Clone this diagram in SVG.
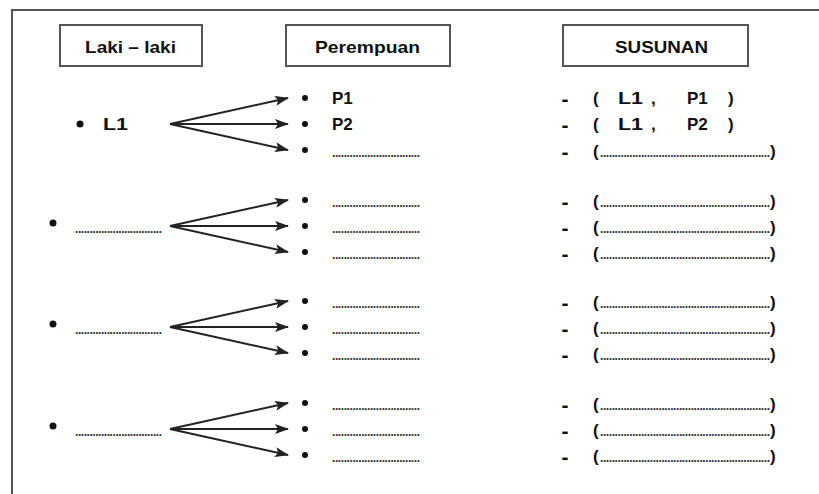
<svg xmlns="http://www.w3.org/2000/svg" width="819" height="494" viewBox="0 0 819 494">
<style>
.frame{fill:none;stroke:#555;stroke-width:2}
.box{fill:#fff;stroke:#555;stroke-width:2}
.hd{font-family:"Liberation Sans",Arial,sans-serif;font-weight:bold;font-size:17px;fill:#111}
.t{font-family:"Liberation Sans",Arial,sans-serif;font-weight:bold;font-size:17px;fill:#111}
.ds{font-family:"Liberation Sans",Arial,sans-serif;font-weight:bold;font-size:21px;fill:#111}
.dots{font-family:"Liberation Sans",Arial,sans-serif;font-weight:bold;font-size:12px;fill:#333}
.bl{fill:#111}
.arr{stroke:#222;stroke-width:2;fill:none;marker-end:url(#ah)}
</style>
<defs>
<marker id="ah" markerUnits="userSpaceOnUse" markerWidth="14" markerHeight="10" viewBox="0 0 14 10" refX="13" refY="5" orient="auto">
<path d="M0,0 L14,5 L0,10 L3,5 z" fill="#222"/>
</marker>
</defs>
<rect width="819" height="494" fill="#fff"/>
<path class="frame" d="M12,494 L12,10 L819,10"/>

<g id="hdr-laki"><rect class="box" x="60" y="25" width="142" height="41"/><text class="hd" x="85" y="53" textLength="91" lengthAdjust="spacingAndGlyphs">Laki – laki</text></g>
<g id="hdr-perempuan"><rect class="box" x="286" y="25" width="164" height="41"/><text class="hd" x="315" y="53" textLength="105" lengthAdjust="spacingAndGlyphs">Perempuan</text></g>
<g id="hdr-susunan"><rect class="box" x="563" y="25" width="185" height="41"/><text class="hd" x="615" y="53" textLength="93" lengthAdjust="spacingAndGlyphs">SUSUNAN</text></g>

<!-- left column -->
<g id="L1"><circle class="bl" cx="80" cy="124" r="3.5"/><text class="t" x="103" y="130" textLength="25" lengthAdjust="spacingAndGlyphs">L1</text></g>
<g id="L2"><circle class="bl" cx="53" cy="223" r="3.5"/><text class="dots" x="75" y="233" textLength="87" lengthAdjust="spacing">..............................</text></g>
<g id="L3"><circle class="bl" cx="53" cy="324" r="3.5"/><text class="dots" x="75" y="334" textLength="87" lengthAdjust="spacing">..............................</text></g>
<g id="L4"><circle class="bl" cx="53" cy="426" r="3.5"/><text class="dots" x="75" y="436" textLength="87" lengthAdjust="spacing">..............................</text></g>

<!-- middle column -->
<g id="P1"><circle class="bl" cx="305" cy="98" r="3"/><text class="t" x="332" y="104">P1</text></g>
<g id="P2"><circle class="bl" cx="305" cy="124" r="3"/><text class="t" x="332" y="130">P2</text></g>
<g id="P3"><circle class="bl" cx="305" cy="150" r="3"/><text class="dots" x="332" y="157" textLength="88" lengthAdjust="spacing">..............................</text></g>
<g id="P4"><circle class="bl" cx="305" cy="200" r="3"/><text class="dots" x="332" y="207" textLength="88" lengthAdjust="spacing">..............................</text></g>
<g id="P5"><circle class="bl" cx="305" cy="226" r="3"/><text class="dots" x="332" y="233" textLength="88" lengthAdjust="spacing">..............................</text></g>
<g id="P6"><circle class="bl" cx="305" cy="252" r="3"/><text class="dots" x="332" y="259" textLength="88" lengthAdjust="spacing">..............................</text></g>
<g id="P7"><circle class="bl" cx="305" cy="301" r="3"/><text class="dots" x="332" y="308" textLength="88" lengthAdjust="spacing">..............................</text></g>
<g id="P8"><circle class="bl" cx="305" cy="327" r="3"/><text class="dots" x="332" y="334" textLength="88" lengthAdjust="spacing">..............................</text></g>
<g id="P9"><circle class="bl" cx="305" cy="353" r="3"/><text class="dots" x="332" y="360" textLength="88" lengthAdjust="spacing">..............................</text></g>
<g id="P10"><circle class="bl" cx="305" cy="403" r="3"/><text class="dots" x="332" y="410" textLength="88" lengthAdjust="spacing">..............................</text></g>
<g id="P11"><circle class="bl" cx="305" cy="429" r="3"/><text class="dots" x="332" y="436" textLength="88" lengthAdjust="spacing">..............................</text></g>
<g id="P12"><circle class="bl" cx="305" cy="455" r="3"/><text class="dots" x="332" y="462" textLength="88" lengthAdjust="spacing">..............................</text></g>

<!-- right column -->
<g id="S1"><text class="ds" x="565" y="106" text-anchor="middle">-</text><text class="t" x="593" y="104">(</text><text class="t" x="618" y="104" textLength="25" lengthAdjust="spacingAndGlyphs">L1</text><text class="t" x="651" y="104">,</text><text class="t" x="687" y="104">P1</text><text class="t" x="728" y="104">)</text></g>
<g id="S2"><text class="ds" x="565" y="132" text-anchor="middle">-</text><text class="t" x="593" y="130">(</text><text class="t" x="618" y="130" textLength="25" lengthAdjust="spacingAndGlyphs">L1</text><text class="t" x="651" y="130">,</text><text class="t" x="687" y="130">P2</text><text class="t" x="728" y="130">)</text></g>
<g id="S3"><text class="ds" x="565" y="159" text-anchor="middle">-</text><text class="t" x="593" y="157">(</text><text class="dots" x="600" y="157" textLength="170" lengthAdjust="spacing">..........................................................</text><text class="t" x="770" y="157">)</text></g>
<g id="S4"><text class="ds" x="565" y="209" text-anchor="middle">-</text><text class="t" x="593" y="207">(</text><text class="dots" x="600" y="207" textLength="170" lengthAdjust="spacing">..........................................................</text><text class="t" x="770" y="207">)</text></g>
<g id="S5"><text class="ds" x="565" y="235" text-anchor="middle">-</text><text class="t" x="593" y="233">(</text><text class="dots" x="600" y="233" textLength="170" lengthAdjust="spacing">..........................................................</text><text class="t" x="770" y="233">)</text></g>
<g id="S6"><text class="ds" x="565" y="261" text-anchor="middle">-</text><text class="t" x="593" y="259">(</text><text class="dots" x="600" y="259" textLength="170" lengthAdjust="spacing">..........................................................</text><text class="t" x="770" y="259">)</text></g>
<g id="S7"><text class="ds" x="565" y="310" text-anchor="middle">-</text><text class="t" x="593" y="308">(</text><text class="dots" x="600" y="308" textLength="170" lengthAdjust="spacing">..........................................................</text><text class="t" x="770" y="308">)</text></g>
<g id="S8"><text class="ds" x="565" y="336" text-anchor="middle">-</text><text class="t" x="593" y="334">(</text><text class="dots" x="600" y="334" textLength="170" lengthAdjust="spacing">..........................................................</text><text class="t" x="770" y="334">)</text></g>
<g id="S9"><text class="ds" x="565" y="362" text-anchor="middle">-</text><text class="t" x="593" y="360">(</text><text class="dots" x="600" y="360" textLength="170" lengthAdjust="spacing">..........................................................</text><text class="t" x="770" y="360">)</text></g>
<g id="S10"><text class="ds" x="565" y="412" text-anchor="middle">-</text><text class="t" x="593" y="410">(</text><text class="dots" x="600" y="410" textLength="170" lengthAdjust="spacing">..........................................................</text><text class="t" x="770" y="410">)</text></g>
<g id="S11"><text class="ds" x="565" y="438" text-anchor="middle">-</text><text class="t" x="593" y="436">(</text><text class="dots" x="600" y="436" textLength="170" lengthAdjust="spacing">..........................................................</text><text class="t" x="770" y="436">)</text></g>
<g id="S12"><text class="ds" x="565" y="464" text-anchor="middle">-</text><text class="t" x="593" y="462">(</text><text class="dots" x="600" y="462" textLength="170" lengthAdjust="spacing">..........................................................</text><text class="t" x="770" y="462">)</text></g>

<g id="connectors">
<line class="arr" x1="170" y1="124" x2="288" y2="98"/>
<line class="arr" x1="170" y1="124" x2="288" y2="124"/>
<line class="arr" x1="170" y1="124" x2="288" y2="150"/>
<line class="arr" x1="170" y1="226" x2="288" y2="200"/>
<line class="arr" x1="170" y1="226" x2="288" y2="226"/>
<line class="arr" x1="170" y1="226" x2="288" y2="252"/>
<line class="arr" x1="170" y1="327" x2="288" y2="301"/>
<line class="arr" x1="170" y1="327" x2="288" y2="327"/>
<line class="arr" x1="170" y1="327" x2="288" y2="353"/>
<line class="arr" x1="170" y1="429" x2="288" y2="403"/>
<line class="arr" x1="170" y1="429" x2="288" y2="429"/>
<line class="arr" x1="170" y1="429" x2="288" y2="455"/>
</g>
</svg>
